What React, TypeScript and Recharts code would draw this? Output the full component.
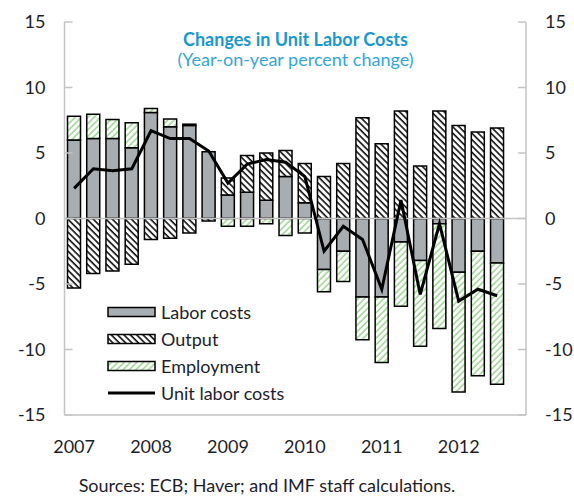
import React from "react";
import {
  ComposedChart,
  Bar,
  Line,
  XAxis,
  YAxis,
  ReferenceLine,
} from "recharts";

const categories = [
  "2007Q1", "2007Q2", "2007Q3", "2007Q4",
  "2008Q1", "2008Q2", "2008Q3", "2008Q4",
  "2009Q1", "2009Q2", "2009Q3", "2009Q4",
  "2010Q1", "2010Q2", "2010Q3", "2010Q4",
  "2011Q1", "2011Q2", "2011Q3", "2011Q4",
  "2012Q1", "2012Q2", "2012Q3", "2012Q4",
];

const laborCosts = [
  6.0, 6.1, 6.1, 5.4, 8.1, 7.0, 7.1, 5.1, 1.8, 2.0, 1.4, 3.2,
  1.2, -3.9, -2.5, -6.0, -6.0, -1.8, -3.2, -0.4, -4.1, -2.5, -3.4, null,
];
const output = [
  -5.3, -4.2, -4.0, -3.5, -1.6, -1.5, -1.1, -0.2, 1.3, 2.8, 3.6, 2.0,
  3.0, 3.2, 4.2, 7.7, 5.7, 8.2, 4.0, 8.2, 7.1, 6.6, 6.9, null,
];
const employment = [
  1.8, 1.85, 1.45, 1.9, 0.3, 0.6, 0.1, 0, -0.6, -0.6, -0.4, -1.3,
  -1.1, -1.7, -2.3, -3.25, -5.0, -4.9, -6.55, -8.0, -9.15, -9.5, -9.25, null,
];
const unitLaborCosts = [
  2.3, 3.8, 3.65, 3.8, 6.7, 6.1, 6.1, 5.15, 2.7, 4.15, 4.5, 4.3,
  3.2, -2.5, -0.6, -1.6, -5.4, 1.4, -5.8, -0.4, -6.3, -5.4, -5.9, null,
];

const yTicks = [-15, -10, -5, 0, 5, 10, 15];
const xTicks = ["2007Q1", "2008Q1", "2009Q1", "2010Q1", "2011Q1", "2012Q1"];

const data = categories.map((c, i) => ({
  q: c,
  labor: laborCosts[i],
  output: output[i],
  employment: employment[i],
  ulc: unitLaborCosts[i],
}));

const FONT = "Lato, 'Open Sans', sans-serif";
const GRAY = "#a7adb0";
const FRAME = "#c4c4c4";
const TEXT = "#1e1e2a";

const Patterns = ({ suffix }: { suffix: string }) => (
  <defs>
    <pattern
      id={"outHatch" + suffix}
      patternUnits="userSpaceOnUse"
      width="4.5"
      height="4.5"
      patternTransform="rotate(-45)"
    >
      <rect width="4.5" height="4.5" fill="#ffffff" />
      <line x1="1" y1="0" x2="1" y2="4.5" stroke="#111" strokeWidth="1.6" />
    </pattern>
    <pattern
      id={"empHatch" + suffix}
      patternUnits="userSpaceOnUse"
      width="4.5"
      height="4.5"
      patternTransform="rotate(45)"
    >
      <rect width="4.5" height="4.5" fill="#ffffff" />
      <line x1="1" y1="0" x2="1" y2="4.5" stroke="#8ccf7e" strokeWidth="1.3" />
    </pattern>
  </defs>
);

const legendItems = [
  { name: "Labor costs", kind: "gray" },
  { name: "Output", kind: "out" },
  { name: "Employment", kind: "emp" },
  { name: "Unit labor costs", kind: "line" },
];

const LegendBox = () => (
  <div
    style={{
      position: "absolute",
      left: 107,
      top: 298,
      fontFamily: FONT,
      fontSize: 18,
      color: TEXT,
    }}
  >
    {legendItems.map((it) => (
      <div
        key={it.name}
        style={{ display: "flex", alignItems: "center", height: 27.2 }}
      >
        <svg width={50} height={14} style={{ marginRight: 4 }}>
          <Patterns suffix={"L" + it.kind} />
          {it.kind === "line" ? (
            <line x1={1} y1={7} x2={48} y2={7} stroke="#000" strokeWidth={3} />
          ) : (
            <rect
              x={1}
              y={2.5}
              width={47}
              height={9}
              stroke="#000"
              strokeWidth={1.5}
              fill={
                it.kind === "gray"
                  ? GRAY
                  : it.kind === "out"
                  ? "url(#outHatchL" + it.kind + ")"
                  : "url(#empHatchL" + it.kind + ")"
              }
            />
          )}
        </svg>
        <span style={{ lineHeight: "18px" }}>{it.name}</span>
      </div>
    ))}
  </div>
);

export default function App() {
  return (
    <div
      style={{
        position: "absolute",
        left: 0,
        top: 0,
        width: 574,
        height: 496,
        background: "#fff",
        fontFamily: FONT,
      }}
    >
      <ComposedChart
        width={574}
        height={496}
        data={data}
        stackOffset="sign"
        margin={{ top: 22, right: 0, bottom: 31, left: 0 }}
        barSize={13}
      >
        <Patterns suffix="" />
        <XAxis
          dataKey="q"
          xAxisId="bottom"
          ticks={xTicks}
          tickFormatter={(v: string) => v.slice(0, 4)}
          interval={0}
          tickSize={0}
          tickMargin={25}
          height={50}
          axisLine={{ stroke: FRAME, strokeWidth: 1.5 }}
          tick={{ fill: TEXT, fontSize: 18, fontFamily: FONT }}
        />
        <XAxis
          dataKey="q"
          xAxisId="top"
          orientation="top"
          height={0}
          tick={false}
          tickLine={false}
          axisLine={{ stroke: FRAME, strokeWidth: 1.5 }}
        />
        <YAxis
          yAxisId="left"
          orientation="left"
          width={64.5}
          domain={[-15, 15]}
          ticks={yTicks}
          interval={0}
          tickSize={-8}
          tickMargin={27}
          axisLine={{ stroke: FRAME, strokeWidth: 1.5 }}
          tickLine={{ stroke: FRAME, strokeWidth: 1.5 }}
          tick={{ fill: TEXT, fontSize: 18, fontFamily: FONT }}
        />
        <YAxis
          yAxisId="right"
          orientation="right"
          width={48}
          domain={[-15, 15]}
          ticks={yTicks}
          interval={0}
          tickSize={-8}
          tickMargin={27}
          axisLine={{ stroke: FRAME, strokeWidth: 1.5 }}
          tickLine={{ stroke: FRAME, strokeWidth: 1.5 }}
          tick={{ fill: TEXT, fontSize: 18, fontFamily: FONT, textAnchor: "start" }}
        />
        <ReferenceLine
          y={0}
          yAxisId="left"
          xAxisId="bottom"
          stroke={FRAME}
          strokeWidth={1.5}
        />
        <Bar
          dataKey="labor"
          name="Labor costs"
          stackId="a"
          xAxisId="bottom"
          yAxisId="left"
          fill={GRAY}
          stroke="#000"
          strokeWidth={1.5}
          isAnimationActive={false}
        />
        <Bar
          dataKey="output"
          name="Output"
          stackId="a"
          xAxisId="bottom"
          yAxisId="left"
          fill="url(#outHatch)"
          stroke="#000"
          strokeWidth={1.5}
          isAnimationActive={false}
        />
        <Bar
          dataKey="employment"
          name="Employment"
          stackId="a"
          xAxisId="bottom"
          yAxisId="left"
          fill="url(#empHatch)"
          stroke="#000"
          strokeWidth={1.5}
          isAnimationActive={false}
        />
        <Line
          dataKey="ulc"
          name="Unit labor costs"
          xAxisId="top"
          yAxisId="right"
          type="linear"
          stroke="#000"
          strokeWidth={3}
          dot={false}
          activeDot={false}
          isAnimationActive={false}
        />
      </ComposedChart>
      <LegendBox />
      <div
        style={{
          position: "absolute",
          left: 65,
          width: 461,
          top: 29,
          textAlign: "center",
          color: "#1b98cc",
          fontSize: 18,
          lineHeight: "20px",
          fontFamily: FONT,
        }}
      >
        <div style={{ fontWeight: 700 }}>Changes in Unit Labor Costs</div>
        <div style={{ color: "#35a6d6" }}>(Year-on-year percent change)</div>
      </div>
      <div
        style={{
          position: "absolute",
          left: 0,
          width: 534,
          top: 476,
          textAlign: "center",
          color: TEXT,
          fontSize: 18,
          lineHeight: "18px",
          fontFamily: FONT,
        }}
      >
        Sources: ECB; Haver; and IMF staff calculations.
      </div>
    </div>
  );
}
